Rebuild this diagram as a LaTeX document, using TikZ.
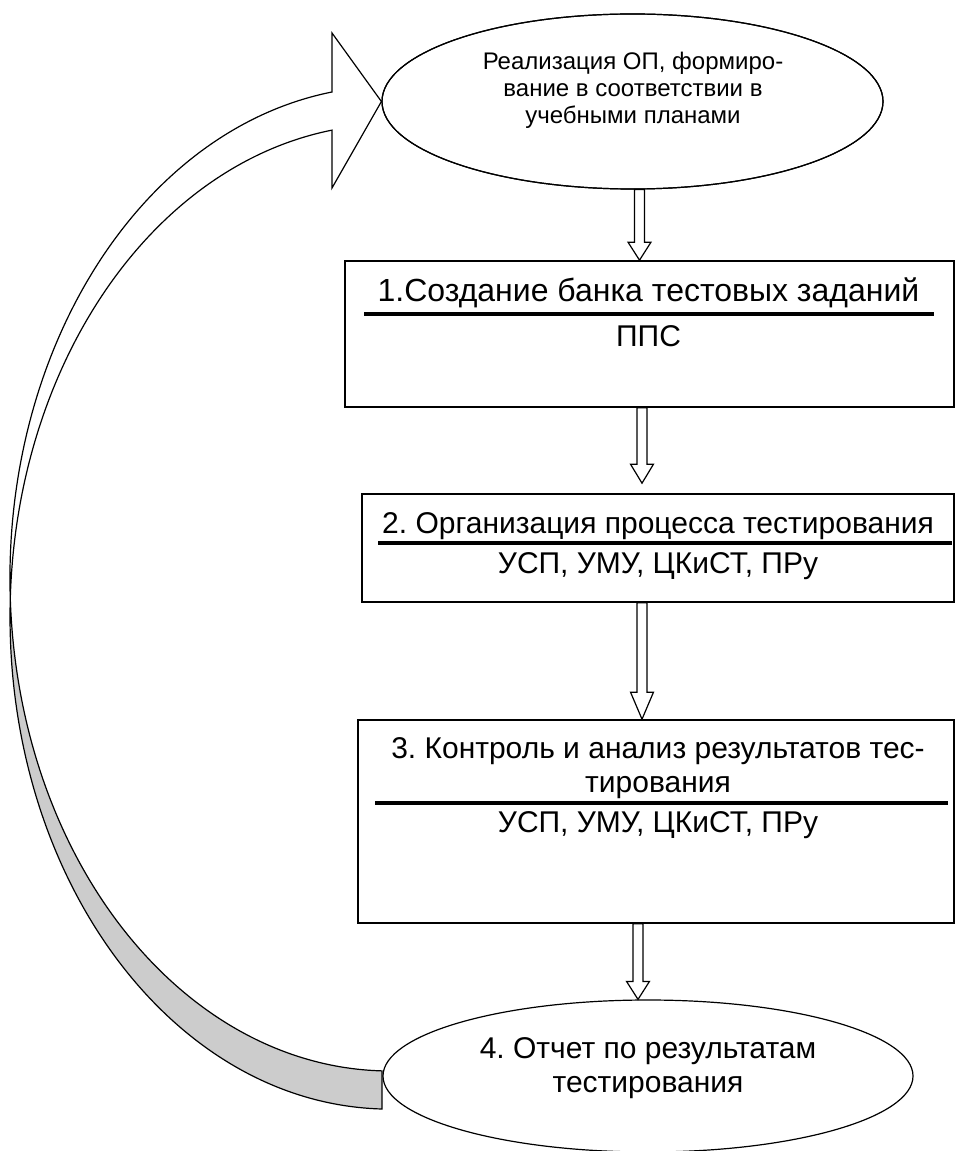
\documentclass[tikz,border=0pt]{standalone}
\usepackage{fontspec}
\setmainfont{Liberation Sans}
\usetikzlibrary{shapes.geometric,calc}
\definecolor{bandgray}{RGB}{204,204,204}
\frenchspacing
\newcommand\blockarr[3]{% #1 start, #2 tip, #3 head length
  \draw[blk] let \p1=(#1), \p2=(#2) in
    (\x1-3.75pt,\y1) -- (\x1-3.75pt,\y2+#3) -- (\x1-8.6pt,\y2+#3) -- (\x1,\y2)
    -- (\x1+8.6pt,\y2+#3) -- (\x1+3.75pt,\y2+#3) -- (\x1+3.75pt,\y1) -- cycle;}
\begin{document}
\begin{tikzpicture}[x=0.75pt,y=0.75pt,
  box/.style={draw, rectangle, line width=1.2pt, inner sep=0pt},
  oval/.style={draw, ellipse, line width=0.9pt, inner sep=0pt},
  lbl/.style={anchor=base, inner sep=0pt, font=\fontsize{22.5}{25.5}\selectfont},
  blbl/.style={anchor=base, inner sep=0pt, font=\fontsize{24}{27}\selectfont},
  slbl/.style={anchor=base, inner sep=0pt, font=\fontsize{18}{20}\selectfont},
  sepline/.style={line width=2.5pt},
  blk/.style={fill=white, draw, line width=0.9pt, line join=miter},
  band/.style={draw, line width=0.9pt, line join=miter}]
\useasboundingbox (0,0) rectangle (956,-1151);

% nodes
\node[oval, minimum width=375.75pt, minimum height=131.25pt] (e0) at (632.5,-101.5) {};
\node[box, minimum width=456.75pt, minimum height=109.5pt] (b1) at (649.5,-334) {};
\node[box, minimum width=444pt, minimum height=81pt] (b2) at (658,-548) {};
\node[box, minimum width=447pt, minimum height=152.25pt] (b3) at (656,-821.5) {};
\node[oval, minimum width=397.5pt, minimum height=114pt] (e4) at (648,-1076) {};

% curved return arrow
\fill[bandgray] (10.28,-597.6) arc[start angle=182.21, end angle=268.79, x radius=285pt, y radius=369.3pt]
  -- (382,-1109) arc[start angle=268.79, end angle=177.79, x radius=285pt, y radius=369.3pt] -- cycle;
\draw[band] (e0.west) -- (332,-33) -- (332,-92)
  arc[start angle=98.78, end angle=268.79, x radius=285pt, y radius=369.3pt]
  -- (382,-1109)
  arc[start angle=268.79, end angle=98.78, x radius=285pt, y radius=369.3pt]
  -- (332,-188) -- cycle;

% redraw ellipse outline over the arrow head tip
\node[oval, minimum width=375.75pt, minimum height=131.25pt] at (e0.center) {};

% texts
\node[slbl] (t0a) at (633,-70) {Реализация ОП, формиро-};
\node[slbl] (t0b) at (633,-97) {вание в соответствии в};
\node[slbl] (t0c) at (633,-124) {учебными планами};

\node[blbl] (t1a) at (648.5,-302) {1.Создание банка тестовых заданий};
\draw[sepline] (364,-314) -- (934,-314);
\node[lbl] (t1b) at (648.5,-347) {ППС};

\node[lbl] (t2a) at (658,-533) {2. Организация процесса тестирования};
\draw[sepline] (378,-543) -- (952,-543);
\node[lbl] (t2b) at (658,-573) {УСП, УМУ, ЦКиСТ, ПРу};

\node[lbl] (t3a) at (658,-758) {3. Контроль и анализ результатов тес-};
\node[lbl] (t3b) at (658,-792) {тирования};
\draw[sepline] (375,-803) -- (948,-803);
\node[lbl] (t3c) at (658,-832) {УСП, УМУ, ЦКиСТ, ПРу};

\node[lbl] (t4a) at (648,-1058) {4. Отчет по результатам};
\node[lbl] (t4b) at (648,-1092) {тестирования};

% block arrows between nodes
\coordinate (xa1) at (639.5,0);
\coordinate (xa2) at (642,0);
\coordinate (xa4) at (638,0);
\blockarr{e0.south -| xa1}{b1.north -| xa1}{13.5pt}
\blockarr{b1.south -| xa2}{$(b2.north -| xa2)+(0,10)$}{14.25pt}
\blockarr{b2.south -| xa2}{b3.north -| xa2}{20.25pt}
\blockarr{b3.south -| xa4}{e4.north -| xa4}{13.5pt}
\end{tikzpicture}
\end{document}
